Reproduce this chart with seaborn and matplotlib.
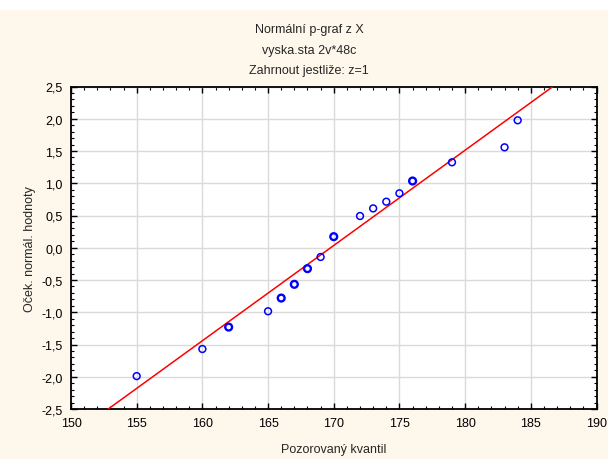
import matplotlib
matplotlib.use("Agg")
import matplotlib.pyplot as plt
from matplotlib.patches import Rectangle
from matplotlib.ticker import MultipleLocator, FuncFormatter
import seaborn as sns
import pandas as pd

# ---- data ----
observed = [155, 160, 162, 165, 166, 167, 168, 169, 170, 172, 173, 174, 175, 176, 179, 183, 184]
expected = [-1.99, -1.57, -1.23, -0.985, -0.78, -0.567, -0.324, -0.143, 0.172,
            0.492, 0.61, 0.714, 0.844, 1.035, 1.325, 1.557, 1.976]
counts = [1, 1, 2, 1, 2, 2, 2, 1, 2, 1, 1, 1, 1, 2, 1, 1, 1]
line_mean = 169.76
line_sd = 6.77

title_lines = ["Normální p-graf z X", "vyska.sta 2v*48c", "Zahrnout jestliže: z=1"]
x_label = "Pozorovaný kvantil"
y_label = "Oček. normál. hodnoty"
x_ticks = [150, 155, 160, 165, 170, 175, 180, 185, 190]
y_ticks = [-2.5, -2.0, -1.5, -1.0, -0.5, 0.0, 0.5, 1.0, 1.5, 2.0, 2.5]

df = pd.DataFrame({"x": observed, "y": expected, "n": counts})

sns.set_style("ticks")
plt.rcParams["font.family"] = ["Liberation Sans", "DejaVu Sans"]

W, H = 608, 460
bg = "#FDF8EB"
fig = plt.figure(figsize=(W / 100, H / 100), dpi=100, facecolor=bg)
fig.add_artist(Rectangle((0, 1 - 10 / H), 1, 10 / H, transform=fig.transFigure,
                         color="white", zorder=0))
left, right, top, bottom = 71, 596.5, 87.5, 410
ax = fig.add_axes([left / W, 1 - bottom / H, (right - left) / W, (bottom - top) / H])
ax.set_facecolor("white")

ax.axline((line_mean, 0), slope=1 / line_sd, color="#FF0000", lw=1.1, zorder=3)

single = df[df["n"] == 1]
multi = df[df["n"] > 1]
sns.scatterplot(data=single, x="x", y="y", ax=ax, marker="o", s=24,
                facecolor="none", edgecolor="#0000FF", linewidth=1.1, zorder=4)
sns.scatterplot(data=multi, x="x", y="y", ax=ax, marker="o", s=24,
                facecolor="none", edgecolor="#0000FF", linewidth=1.7, zorder=4)

ax.set_xlim(150, 190)
ax.set_ylim(-2.5, 2.5)
ax.set_xticks(x_ticks)
ax.set_yticks(y_ticks)
ax.xaxis.set_minor_locator(MultipleLocator(1))
ax.yaxis.set_minor_locator(MultipleLocator(0.1))
ax.yaxis.set_major_formatter(FuncFormatter(lambda v, p: f"{v:.1f}".replace(".", ",")))
ax.xaxis.set_major_formatter(FuncFormatter(lambda v, p: f"{v:.0f}"))

ax.grid(True, which="major", color="#DADADA", lw=1.0, zorder=0)
ax.set_axisbelow(True)
for sp in ax.spines.values():
    sp.set_visible(True)
    sp.set_color("black")
    sp.set_linewidth(1.3)

ax.tick_params(which="both", direction="in", top=True, right=True, colors="black",
               labelsize=9)
ax.tick_params(which="major", length=4, width=1)
ax.tick_params(which="minor", length=2, width=0.8)
ax.tick_params(axis="x", which="major", pad=6)
ax.tick_params(axis="y", which="major", pad=6)

ax.set_xlabel(x_label, fontsize=9, labelpad=10)
ax.set_ylabel(y_label, fontsize=9, labelpad=4)

for txt, yy in zip(title_lines, [30.5, 51, 71]):
    fig.text(309 / W, 1 - yy / H, txt, ha="center", va="center", fontsize=9)

fig.savefig("out.png", dpi=100, facecolor=bg)
